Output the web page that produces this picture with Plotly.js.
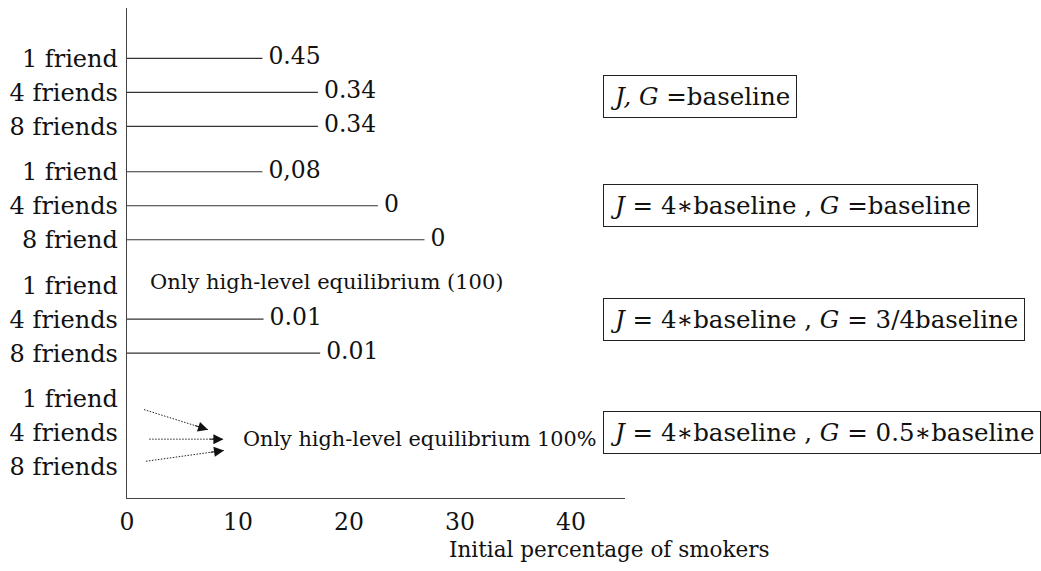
<!DOCTYPE html>
<html>
<head>
<meta charset="utf-8">
<script src="https://cdn.plot.ly/plotly-3.0.1.min.js"></script>
<style>html,body{margin:0;padding:0;background:#fff;}#chart{width:1041px;height:571px;}</style>
</head>
<body>
<div id="chart"></div>
<script>
// ---- data ----
const rowLabels = ["1 friend","4 friends","8 friends",
                   "1 friend","4 friends","8 friend",
                   "1 friend","4 friends","8 friends",
                   "1 friend","4 friends","8 friends"];
const endValues = [12.2, 17.2, 17.2,
                   12.2, 22.6, 26.8,
                   null, 12.3, 17.4,
                   null, null, null];
const valueLabels = ["0.45","0.34","0.34",
                     "0,08","0","0",
                     "","0.01","0.01",
                     "","",""];
const boxLabels = ["<i>J, G</i> =baseline",
                   "<i>J</i> = 4∗baseline , <i>G</i> =baseline",
                   "<i>J</i> = 4∗baseline , <i>G</i> = 3/4baseline",
                   "<i>J</i> = 4∗baseline , <i>G</i> = 0.5∗baseline"];
const note3 = "Only high-level equilibrium (100)";
const note4 = "Only high-level equilibrium 100%";
const xTicks = [0, 10, 20, 30, 40];
const xTitle = "Initial percentage of smokers";

// ---- layout helpers ----
const perGroup = 3, groupStep = 3.335;
const rowPos = rowLabels.map((_, i) => (i % perGroup) + Math.floor(i / perGroup) * groupStep);

const lx = [], ly = [], tx = [], ty = [], tt = [];
endValues.forEach((v, i) => {
  if (v === null) return;
  lx.push(0, v, null); ly.push(rowPos[i], rowPos[i], null);
  tx.push(v); ty.push(rowPos[i]); tt.push(valueLabels[i]);
});

const FONT = "DejaVu Serif";
const INK = '#111';
const traces = [
  {x: lx, y: ly, mode: 'lines', line: {color: '#333', width: 1.2}, hoverinfo: 'skip', showlegend: false},
  {x: tx, y: ty, text: tt, mode: 'markers+text', textposition: 'middle right',
   marker: {size: 8, color: 'rgba(0,0,0,0)'},
   textfont: {family: FONT, size: 23.5, color: INK}, hoverinfo: 'skip', showlegend: false}
];

const boxRows = [1.12, 1 + groupStep, 1 + 2 * groupStep, 1 + 3 * groupStep];
const annotations = boxLabels.map((t, i) => ({
  text: t, xref: 'paper', x: 0.956, xanchor: 'left', yref: 'y', y: boxRows[i], yanchor: 'middle',
  showarrow: false, bordercolor: '#222', borderwidth: 1, borderpad: 6,
  font: {family: FONT, size: 24.5, color: INK}
}));
annotations.push({text: note3, xref: 'x', x: 1.9, xanchor: 'left', yref: 'y', y: 2 * groupStep - 0.1,
  yanchor: 'middle', showarrow: false, font: {family: FONT, size: 21, color: INK}});
annotations.push({text: note4, xref: 'x', x: 10.3, xanchor: 'left', yref: 'y', y: 3 * groupStep + 1.2,
  yanchor: 'middle', showarrow: false, font: {family: FONT, size: 20.8, color: INK}});
annotations.push({text: xTitle, xref: 'paper', x: 0.968, xanchor: 'center', yref: 'paper', y: -0.106,
  yanchor: 'middle', showarrow: false, font: {family: FONT, size: 21.5, color: INK}});

// dotted arrows (group 4)
const arrows = [
  {x0: 1.53, y0: 10.33, x1: 7.3, y1: 10.92, ax: -14.3, ay: -4.5},
  {x0: 2.0, y0: 11.2, x1: 8.68, y1: 11.2, ax: -15, ay: 0},
  {x0: 1.71, y0: 11.85, x1: 8.74, y1: 11.53, ax: -14.85, ay: 2.1}
];
const shapes = arrows.map(a => ({type: 'line', xref: 'x', yref: 'y', x0: a.x0, y0: a.y0, x1: a.x1, y1: a.y1,
  line: {color: '#222', width: 1, dash: '1.5px,1.5px'}}));
arrows.forEach(a => annotations.push({x: a.x1, y: a.y1, xref: 'x', yref: 'y', ax: a.ax, ay: a.ay,
  text: '', showarrow: true, arrowhead: 2, arrowsize: 2, arrowwidth: 1, arrowcolor: INK}));

const layout = {
  width: 1041, height: 571,
  margin: {l: 127, r: 416, t: 8, b: 73},
  paper_bgcolor: '#fff', plot_bgcolor: '#fff',
  showlegend: false,
  xaxis: {range: [0, 44.86], tickvals: xTicks, ticktext: xTicks.map(String), showgrid: false, zeroline: false,
    showline: true, linecolor: '#444', linewidth: 1.3, ticks: 'outside', ticklen: 2, tickcolor: 'rgba(0,0,0,0)',
    tickfont: {family: FONT, size: 23.5, color: INK}, fixedrange: true},
  yaxis: {range: [12.93, -1.48], tickvals: rowPos, ticktext: rowLabels, showgrid: false, zeroline: false,
    showline: true, linecolor: '#444', linewidth: 1.3, ticks: '', ticklabelstandoff: 3,
    tickfont: {family: FONT, size: 24, color: INK}, fixedrange: true},
  shapes: shapes,
  annotations: annotations
};

Plotly.newPlot('chart', traces, layout, {displayModeBar: false, staticPlot: true});
</script>
</body>
</html>
